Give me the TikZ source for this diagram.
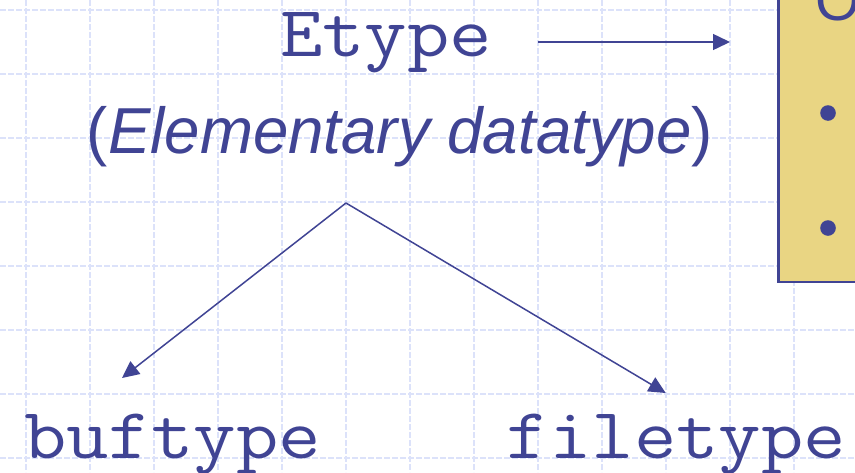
\documentclass[tikz,border=0pt]{standalone}
\usepackage{fontspec}
\newfontfamily\sansf{Liberation Sans}
\usetikzlibrary{arrows.meta}
\definecolor{ink}{HTML}{404494}
\definecolor{gridc}{HTML}{DCE2FA}
\definecolor{boxfill}{HTML}{E9D583}
\newcommand{\monoword}[1]{\scalebox{1.143}[1]{\ttfamily\fontsize{72}{72}\selectfont #1}}
\begin{document}
\begin{tikzpicture}[x=1pt,y=-1pt,
  gridline/.style={draw=gridc, line width=1.6pt, dash pattern=on 6pt off 2pt},
  monotext/.style={text=ink, inner sep=0pt, anchor=base},
  sanstext/.style={text=ink, font=\sansf\fontsize{65}{65}\selectfont, inner sep=0pt, anchor=base},
  arr/.style={draw=ink, line width=1.5pt, -{Triangle[length=17pt,width=16pt]}},
  noteframe/.style={draw=ink, fill=boxfill, line width=2.5pt, minimum width=150pt, minimum height=340pt, inner sep=0pt, anchor=south west},
  dotmark/.style={circle, fill=ink, minimum size=15.6pt, inner sep=0pt}
]
\clip (0,0) rectangle (855,472);
\fill[white] (0,0) rectangle (855,472);
\foreach \x in {26,90,...,794} \draw[gridline] (\x,0) -- (\x,472);
\foreach \y in {10,74,...,458} \draw[gridline] (0,\y) -- (855,\y);

\node[noteframe] (box) at (777,283) {};
\node[text=ink, font=\sansf\fontsize{58}{58}\selectfont, inner sep=0pt, anchor=base west] (otext) at (815,20) {O};
\node[dotmark] (b1) at (828,113) {};
\node[dotmark] (b2) at (828,228) {};

\node[monotext] (etype) at (386,56) {\monoword{Etype}};
\node[sanstext] (elem) at (400,153) {\resizebox{626pt}{\height}{(\textit{Elementary datatype})}};
\node[monotext] (buf) at (172.5,458) {\monoword{buftype}};
\node[monotext] (file) at (676.5,458) {\monoword{filetype}};

\coordinate (etail) at (538,42);
\coordinate (etip) at (730,42);
\coordinate (apex) at (346,203);
\coordinate (buftip) at (122,378);
\coordinate (filetip) at (665.7,393);

\draw[arr] (etail) -- (etip);
\draw[arr] (apex) -- (buftip);
\draw[arr] (apex) -- (filetip);
\end{tikzpicture}
\end{document}
